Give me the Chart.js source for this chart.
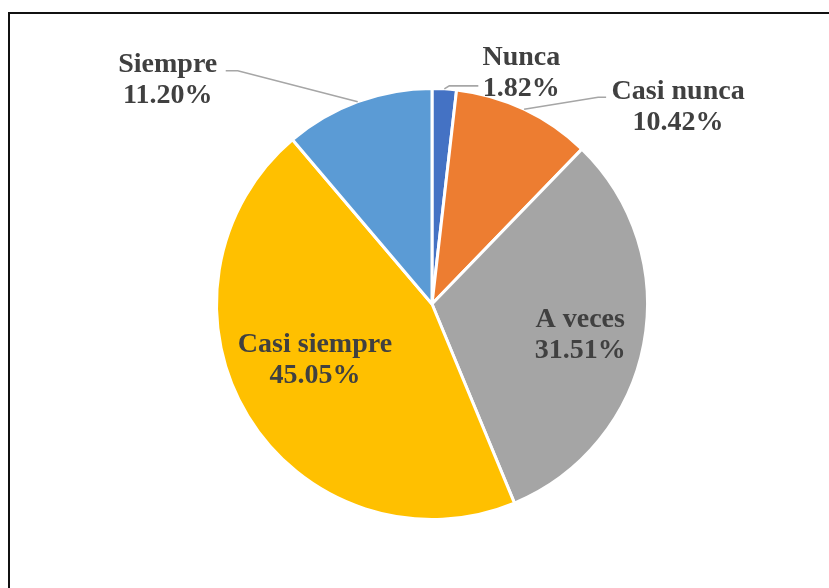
<!DOCTYPE html>
<html>
<head>
<meta charset="utf-8">
<script src="https://cdn.jsdelivr.net/npm/chart.js"></script>
<style>
  html, body { margin: 0; padding: 0; background: #fff; overflow: hidden; }
  #frame {
    position: absolute; left: 8px; top: 12px;
    width: 900px; height: 700px;
    border: 2px solid #111;
  }
  #wrap { position: absolute; left: 0; top: 0; width: 829px; height: 588px; }
</style>
</head>
<body>
<div id="frame"></div>
<div id="wrap"><canvas id="chart"></canvas></div>
<script>
// data
const categories = ["Nunca", "Casi nunca", "A veces", "Casi siempre", "Siempre"];
const percents = [1.82, 10.42, 31.51, 45.05, 11.20];
const colors = ["#4472C4", "#ED7D31", "#A5A5A5", "#FFC000", "#5B9BD5"];

// label placement (offsets from the slice edge / slice center)
const labelPlace = [
    { out: true, text: [77, -16], end: [34, -3], elbow: [5, -3] },
    { out: true, text: [154, -2], end: [82, -12], elbow: [74, -12] },
    { out: false, k: 0.70, dx: 0, dy: 3 },
    { out: false, k: 0.62, dx: -3, dy: -13 },
    { out: true, text: [-190, -21], end: [-132, -31], elbow: [-120, -31] }
];

const FONT = "bold 28px 'Liberation Serif', 'Times New Roman', serif";
const LINE_H = 31;

function drawBlock(ctx, lines, cx, cy) {
    ctx.font = FONT;
    ctx.fillStyle = "#404040";
    ctx.textAlign = "center";
    ctx.textBaseline = "middle";
    const top = cy - (lines.length - 1) * LINE_H / 2;
    lines.forEach((t, i) => ctx.fillText(t, cx, top + i * LINE_H));
}

const pieLabels = {
    id: "pieLabels",
    afterDatasetsDraw(chart) {
        const ctx = chart.ctx;
        const meta = chart.getDatasetMeta(0);
        ctx.save();
        meta.data.forEach((arc, i) => {
            const p = labelPlace[i];
            const mid = (arc.startAngle + arc.endAngle) / 2;
            const lines = [categories[i], percents[i].toFixed(2) + "%"];
            if (p.out) {
                const ex = arc.x + Math.cos(mid) * arc.outerRadius;
                const ey = arc.y + Math.sin(mid) * arc.outerRadius;
                ctx.strokeStyle = "#A6A6A6";
                ctx.lineWidth = 1.6;
                ctx.beginPath();
                ctx.moveTo(ex, ey);
                ctx.lineTo(ex + p.elbow[0], ey + p.elbow[1]);
                ctx.lineTo(ex + p.end[0], ey + p.end[1]);
                ctx.stroke();
                drawBlock(ctx, lines, ex + p.text[0], ey + p.text[1]);
            } else {
                const r = arc.outerRadius * p.k;
                drawBlock(ctx, lines, arc.x + Math.cos(mid) * r + p.dx, arc.y + Math.sin(mid) * r + p.dy);
            }
        });
        ctx.restore();
    }
};

const chart = new Chart(document.getElementById("chart").getContext("2d"), {
    type: "pie",
    data: {
        labels: categories,
        datasets: [{
            data: percents,
            backgroundColor: colors,
            borderColor: "#ffffff",
            borderWidth: 3
        }]
    },
    options: {
        responsive: true,
        maintainAspectRatio: false,
        animation: false,
        layout: { padding: { left: 215, right: 180, top: 87, bottom: 67 } },
        plugins: {
            legend: { display: false },
            tooltip: { enabled: false }
        }
    },
    plugins: [pieLabels]
});
</script>
</body>
</html>
